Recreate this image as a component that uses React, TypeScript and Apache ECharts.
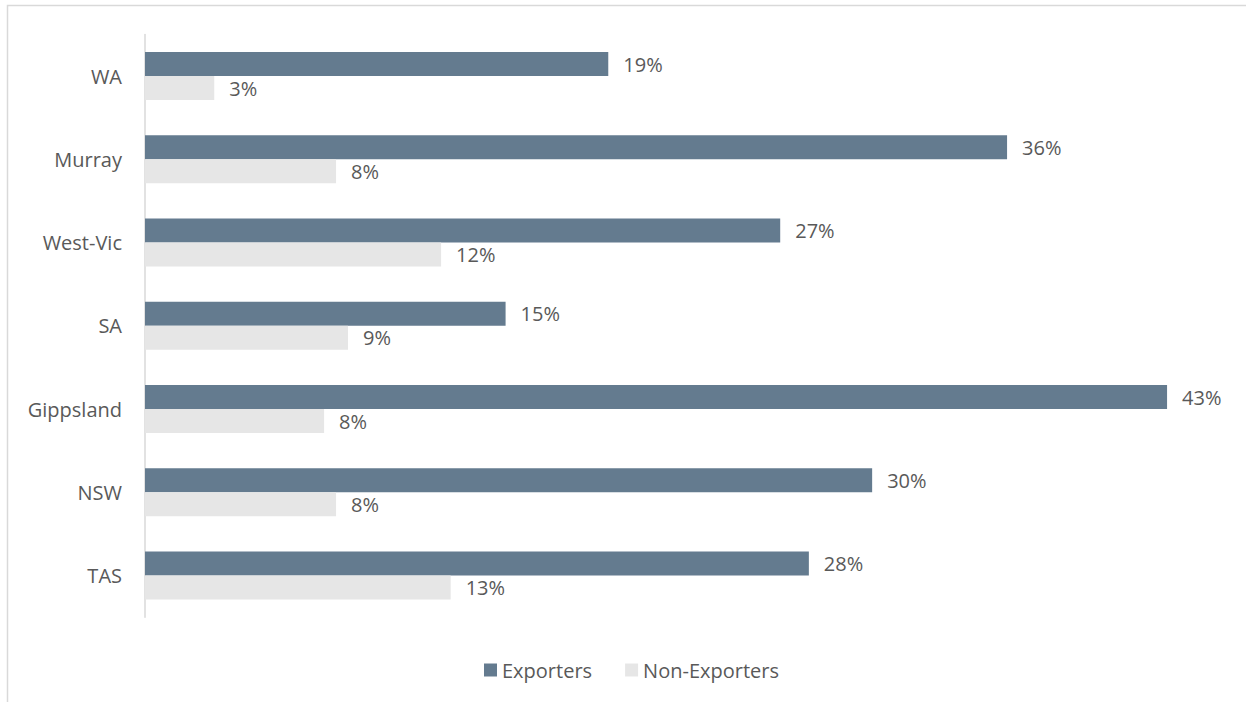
import React, { useEffect, useRef } from "react";
import * as echarts from "echarts";

const categories = ["WA", "Murray", "West-Vic", "SA", "Gippsland", "NSW", "TAS"];
const exporters = [19.4, 36.1, 26.6, 15.1, 42.8, 30.45, 27.8];
const nonExporters = [2.9, 8.0, 12.4, 8.5, 7.5, 8.0, 12.8];
const seriesNames = ["Exporters", "Non-Exporters"];

const FONT = "Open Sans";
const TEXT = "#595959";
const FS = 20;

export default function App() {
  const ref = useRef<HTMLDivElement>(null);
  useEffect(() => {
    const chart = echarts.init(ref.current!, null, { renderer: "svg" });
    const label = {
      show: true,
      position: "right",
      distance: 15,
      color: TEXT,
      fontFamily: FONT,
      fontSize: FS,
      formatter: (p: any) => Math.round(p.value) + "%",
    };
    chart.setOption({
      animation: false,
      backgroundColor: "#ffffff",
      textStyle: { fontFamily: FONT },
      graphic: [
        {
          type: "rect",
          shape: { x: 7.5, y: 5.5, width: 1300, height: 800 },
          style: { fill: "none", stroke: "#d9d9d9", lineWidth: 1.5 },
          silent: true,
          z: -10,
        },
      ],
      legend: {
        data: seriesNames,
        bottom: 17,
        left: 479,
        itemWidth: 13,
        itemHeight: 13,
        itemGap: 33,
        icon: "rect",
        textStyle: { color: TEXT, fontFamily: FONT, fontSize: FS },
      },
      grid: { left: 145, right: 26.4, top: 34.4, bottom: 84.8, containLabel: false },
      xAxis: {
        type: "value",
        min: 0,
        max: 45,
        show: false,
      },
      yAxis: {
        type: "category",
        data: categories,
        inverse: true,
        axisLine: { show: true, lineStyle: { color: "#d9d9d9", width: 1.5 } },
        axisTick: { show: false },
        axisLabel: { color: TEXT, fontFamily: FONT, fontSize: FS, margin: 23 },
      },
      series: [
        {
          name: seriesNames[0],
          type: "bar",
          data: exporters,
          barWidth: 24,
          barGap: "0%",
          itemStyle: { color: "#647b8f" },
          label,
        },
        {
          name: seriesNames[1],
          type: "bar",
          data: nonExporters,
          barWidth: 24,
          barGap: "0%",
          itemStyle: { color: "#e6e6e6" },
          label,
        },
      ],
    });
    return () => chart.dispose();
  }, []);
  return (
    <div
      ref={ref}
      style={{ position: "fixed", left: 0, top: 0, width: 1246, height: 702 }}
    />
  );
}
